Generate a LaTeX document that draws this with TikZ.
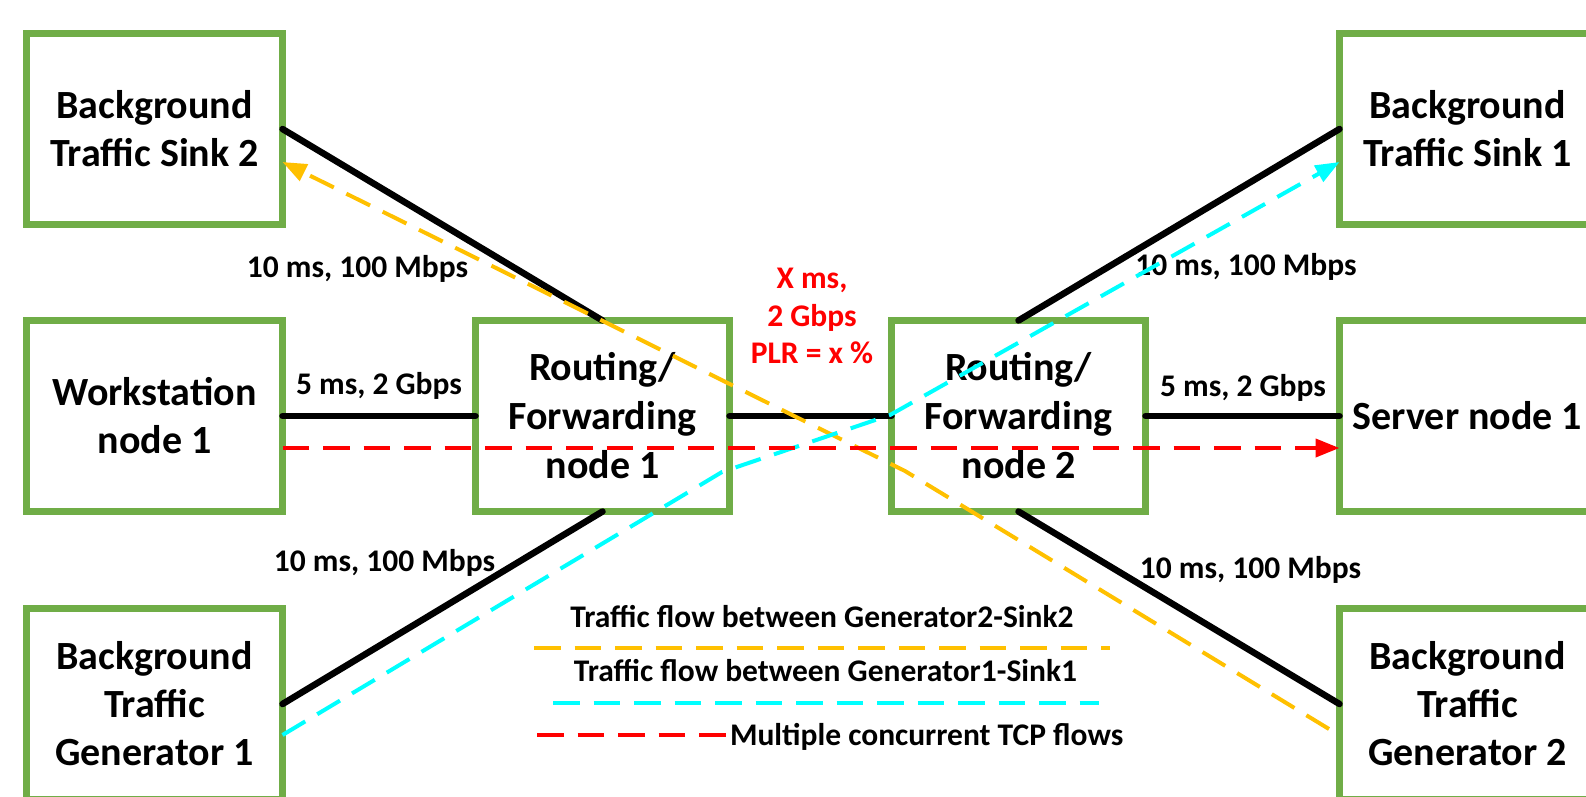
\documentclass[tikz,border=0pt]{standalone}
\usepackage{fontspec}
\setmainfont{Carlito}
\usetikzlibrary{arrows.meta,calc}
\definecolor{boxgreen}{HTML}{70AD47}
\definecolor{flowyellow}{HTML}{FFC000}
\definecolor{flowcyan}{HTML}{00FFFF}
\definecolor{flowred}{HTML}{FF0000}
\begin{document}
\begin{tikzpicture}[x=1pt,y=-1pt,
  box/.style={draw=boxgreen, line width=7pt, minimum width=256pt, minimum height=191pt,
    outer sep=0pt, inner sep=0pt, align=center, font=\fontsize{40}{48}\selectfont\bfseries},
  link/.style={line width=6.5pt, line cap=round, black},
  flow/.style={line width=4pt, dash pattern=on 26.5pt off 14pt},
  lbl/.style={font=\fontsize{31.5}{37.5}\selectfont\bfseries, inner sep=0pt, outer sep=0pt},
  tip/.style={-{Triangle[length=24pt,width=18pt]}}
]
\path[use as bounding box] (0,0) rectangle (1586,796);
\clip (0,0) rectangle (1586,796);

% boxes
\node[box] (sink2) at (154.5,129) {Background\\Traffic Sink 2};
\node[box] (sink1) at (1467.5,129) {Background\\Traffic Sink 1};
\node[box] (ws) at (154.5,416) {Workstation\\node 1};
\node[box, minimum width=254pt, font=\fontsize{40}{49}\selectfont\bfseries] (r1) at (602.5,416) {Routing/\\Forwarding\\node 1};
\node[box, minimum width=254pt, font=\fontsize{40}{49}\selectfont\bfseries] (r2) at (1018.5,416) {Routing/\\Forwarding\\node 2};
\node[box] (srv) at (1467.5,416) {Server node 1};
\node[box] (gen1) at (154.5,704) {Background\\Traffic\\Generator 1};
\node[box] (gen2) at (1467.5,704) {Background\\Traffic\\Generator 2};

% links
\draw[link] (sink2.east) -- (r1.north);
\draw[link] (r2.north) -- (sink1.west);
\draw[link] (gen1.east) -- (r1.south);
\draw[link] (r2.south) -- (gen2.west);
\draw[link] (ws.east) -- (r1.west);
\draw[link] (r1.east) -- (r2.west);
\draw[link] (r2.east) -- (srv.west);

% link labels
\node[lbl, anchor=base] (l1) at (357.5,277) {10 ms, 100 Mbps};
\node[lbl, anchor=base] (l2) at (379,394) {5 ms, 2 Gbps};
\node[lbl, anchor=base] (l3) at (1246,275) {10 ms, 100 Mbps};
\node[lbl, anchor=base] (l4) at (1243,396) {5 ms, 2 Gbps};
\node[lbl, anchor=base] (l5) at (384.5,571) {10 ms, 100 Mbps};
\node[lbl, anchor=base] (l6) at (1250.5,578) {10 ms, 100 Mbps};
\node[lbl, align=center, text=flowred] (core) at (812,316) {X ms,\\2 Gbps\\PLR = x \%};

% flows
\coordinate (ybend) at (905,471);
\draw[flow, flowyellow, tip] ([xshift=-10.5pt,yshift=-25pt]gen2.west) -- (ybend) -- ([yshift=-33pt]sink2.east);
\coordinate (cbend1) at (722,472);
\coordinate (cbend2) at (890,415);
\draw[flow, flowcyan, tip] ([yshift=-31pt]gen1.east) -- (cbend1) -- (cbend2) -- ([yshift=-33pt]sink1.west);
\draw[flow, flowred, tip] ([yshift=-32pt]ws.east) -- ([yshift=-32pt]srv.west);

% legend
\node[lbl, anchor=base] (leg1) at (822,627) {Traffic flow between Generator2-Sink2};
\node[lbl, anchor=base] (leg2) at (825.5,681) {Traffic flow between Generator1-Sink1};
\node[lbl, anchor=base west] (leg3) at (730,745) {Multiple concurrent TCP flows};
\coordinate (ly1) at (534,648);
\coordinate (ly2) at (1110,648);
\coordinate (lc1) at (553,703);
\coordinate (lc2) at (1099,703);
\coordinate (lr1) at (537,735);
\draw[flow, flowyellow] (ly1) -- (ly2);
\draw[flow, flowcyan] (lc1) -- (lc2);
\draw[flow, flowred] (lr1) -- (lr1 -| leg3.west);
\end{tikzpicture}
\end{document}
